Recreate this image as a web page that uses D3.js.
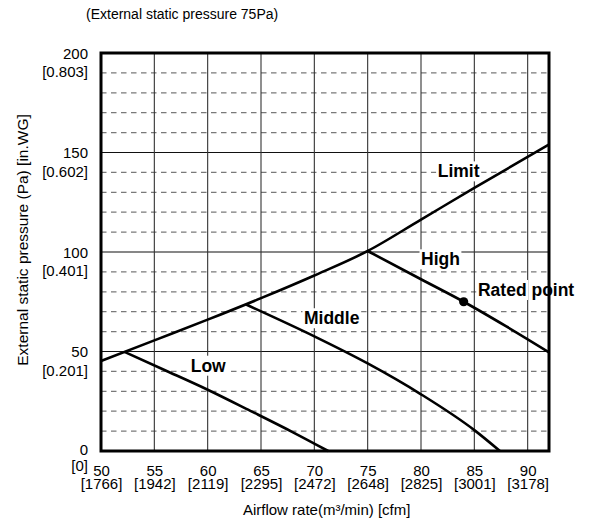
<!DOCTYPE html>
<html><head><meta charset="utf-8">
<script src="https://cdn.jsdelivr.net/npm/d3@7/dist/d3.min.js"></script>
<style>body{margin:0;background:#fff} svg text{font-family:"Liberation Sans",Arial,sans-serif;fill:#000}</style>
</head><body><svg id="c" width="596" height="529"></svg>
<script>
// ---- data ----
const xTicks = [50,55,60,65,70,75,80,85,90];
const xTickCfm = ["[1766]","[1942]","[2119]","[2295]","[2472]","[2648]","[2825]","[3001]","[3178]"];
const yTicks = [0,50,100,150,200];
const yTickInWG = ["[0]","[0.201]","[0.401]","[0.602]","[0.803]"];
const yMajor = [50,100,150];
const yMinor = [10,20,30,40,60,70,80,90,110,120,130,140,160,170,180,190];
const limitCurve  = [[50,45.2],[55,55.6],[60,66],[65,76.8],[70,88.2],[75,100.5],[80,116.3],[85,132.2],[92,154]];
const highCurve   = [[75,100.5],[80,86.3],[84,75],[88,62.6],[92,49.6]];
const middleCurve = [[63.6,73.6],[70,57.6],[75,44],[80,28.5],[85,10.5],[87.4,0]];
const lowCurve    = [[52.2,49.8],[56,40.6],[60,30.8],[64,20.2],[68,9.4],[71.3,0]];
const ratedPoint  = [84,75];
const curveLabels = ["Limit","High","Rated point","Middle","Low"];
const curveLabelAt = [[81.57,137.5],[80.0,93.3],[85.34,77.9],[69.03,63.7],[58.41,39.85]];

// ---- layout ----
const svg = d3.select("#c");
const L=101, R=549, T=53, B=451;
const x = d3.scaleLinear().domain([50,92]).range([L,R]);
const y = d3.scaleLinear().domain([0,200]).range([B,T]);

// title
svg.append("text").attr("x",86).attr("y",18.5).attr("font-size",14)
  .text("(External static pressure 75Pa)");

// minor dashed horizontals
svg.append("g").selectAll("line").data(yMinor).join("line")
  .attr("x1",L).attr("x2",R).attr("y1",d=>y(d)).attr("y2",d=>y(d))
  .attr("stroke","#7a7a7a").attr("stroke-width",1.3).attr("stroke-dasharray","5.5,4.5");
// major horizontals
svg.append("g").selectAll("line").data(yMajor).join("line")
  .attr("x1",L).attr("x2",R).attr("y1",d=>y(d)).attr("y2",d=>y(d))
  .attr("stroke","#111").attr("stroke-width",1.2);
// verticals
svg.append("g").selectAll("line").data(xTicks.slice(1)).join("line")
  .attr("x1",d=>x(d)).attr("x2",d=>x(d)).attr("y1",T).attr("y2",B)
  .attr("stroke","#333").attr("stroke-width",1.1);

// labels with white backgrounds (per word)
const lg = svg.append("g");
curveLabels.forEach((lab,i)=>{
  let cx = x(curveLabelAt[i][0]);
  const by = y(curveLabelAt[i][1]);
  lab.split(" ").forEach(w=>{
    const g = lg.append("g");
    const r = g.append("rect").attr("fill","#fff");
    const t = g.append("text").attr("x",cx).attr("y",by).attr("font-size",17.5)
      .attr("font-weight","bold").text(w);
    const bb = t.node().getBBox();
    r.attr("x",bb.x-1.5).attr("y",bb.y).attr("width",bb.width+3).attr("height",bb.height);
    cx += bb.width + 17.5*0.278;
  });
});

// curves
const line = d3.line().x(d=>x(d[0])).y(d=>y(d[1])).curve(d3.curveMonotoneX);
svg.append("g").selectAll("path").data([limitCurve,highCurve,middleCurve,lowCurve]).join("path")
  .attr("d",line).attr("fill","none").attr("stroke","#000").attr("stroke-width",2.6);
svg.append("circle").attr("cx",x(ratedPoint[0])).attr("cy",y(ratedPoint[1])).attr("r",4.6).attr("fill","#000");

// frame
svg.append("rect").attr("x",L).attr("y",T).attr("width",R-L).attr("height",B-T)
  .attr("fill","none").attr("stroke","#000").attr("stroke-width",3);

// x axis
const gx = svg.append("g").attr("transform",`translate(0,${B})`)
  .call(d3.axisBottom(x).tickValues(xTicks).tickSize(0));
gx.select(".domain").remove();
gx.attr("font-family",null).attr("font-size",null);
gx.selectAll(".tick text").each(function(d,i){
  const t = d3.select(this).text(null).attr("dy",null).attr("y",null).attr("font-size",15).attr("fill","#000");
  t.append("tspan").attr("x",0).attr("y",25).text(d);
  t.append("tspan").attr("x",0).attr("y",38).text(xTickCfm[i]);
});

// y axis
const gy = svg.append("g").attr("transform",`translate(${L},0)`)
  .call(d3.axisLeft(y).tickValues(yTicks).tickSize(0).tickPadding(13));
gy.select(".domain").remove();
gy.attr("font-family",null).attr("font-size",null);
gy.selectAll(".tick text").each(function(d,i){
  const t = d3.select(this).text(null).attr("dy",null).attr("font-size",15).attr("fill","#000");
  const xx = t.attr("x");
  const o1 = d===0 ? 3.3 : 5, o2 = d===0 ? 19.5 : 23.5;
  t.append("tspan").attr("x",xx).attr("y",o1).text(d);
  t.append("tspan").attr("x",xx).attr("y",o2).text(yTickInWG[i]);
});

// axis titles
svg.append("text").attr("x",326.7).attr("y",515).attr("text-anchor","middle").attr("font-size",15)
  .text("Airflow rate(m³/min) [cfm]");
svg.append("text").attr("transform","translate(28,240) rotate(-90)").attr("text-anchor","middle").attr("font-size",15.5)
  .text("External static pressure (Pa) [in.WG]");
</script></body></html>
